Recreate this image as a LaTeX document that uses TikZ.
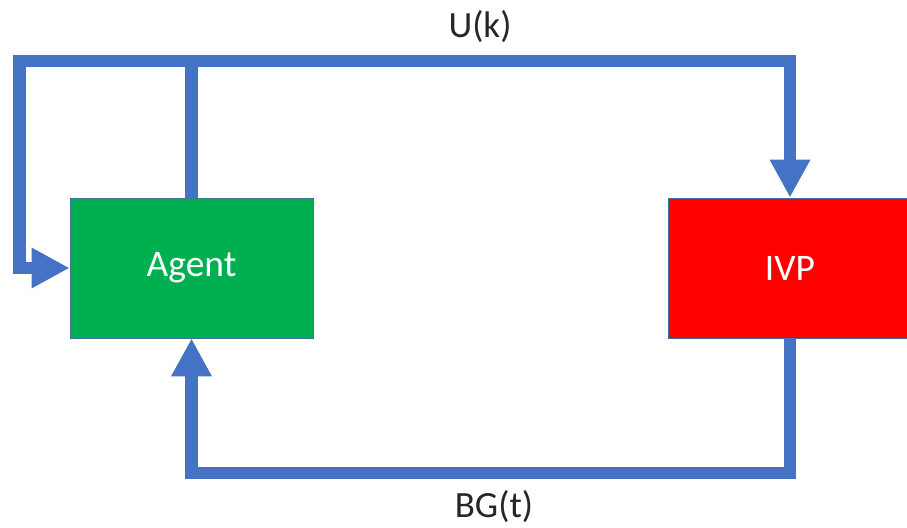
\documentclass[tikz,border=0pt]{standalone}
\usepackage{fontspec}
\setmainfont{Carlito}
\usetikzlibrary{arrows.meta}
\definecolor{linkblue}{HTML}{4472C4}
\definecolor{agentgreen}{HTML}{00B050}
\definecolor{ivpred}{HTML}{FF0000}
\definecolor{boxedge}{HTML}{41719C}
\begin{document}
\begin{tikzpicture}[>={Triangle[length=38bp,width=38bp]},line join=miter,
  block/.style={draw=boxedge,line width=0.8bp,minimum width=243bp,minimum height=140bp,
    inner sep=0pt,text=white,font=\fontsize{37.5bp}{44bp}\selectfont},
  link/.style={linkblue,line width=12.5bp},
  lbl/.style={anchor=base,text=black!85,font=\fontsize{37bp}{44bp}\selectfont}]
\clip (0bp,0bp) rectangle (907bp,528bp);
%%
\node (agent) at (191.5bp,260bp) [block,fill=agentgreen] {Agent};
  \node (ivp) at (790bp,260bp) [block,fill=ivpred] {IVP};
  \coordinate (split) at (191.5bp,467bp);
  \node (u_k) at (480bp,490bp) [lbl] {U(k)};
  \node (bg_t) at (494bp,11bp) [lbl] {BG(t)};
  \draw [link] (agent.north) -- (split);
  \draw [link,->] (split) -- (19.5bp,467bp) |- (agent.west);
  \draw [link,->] (split) -| (ivp.north);
  \draw [link,->] (ivp.south) |- (191.5bp,55bp) -- (agent.south);
%
\end{tikzpicture}
\end{document}
